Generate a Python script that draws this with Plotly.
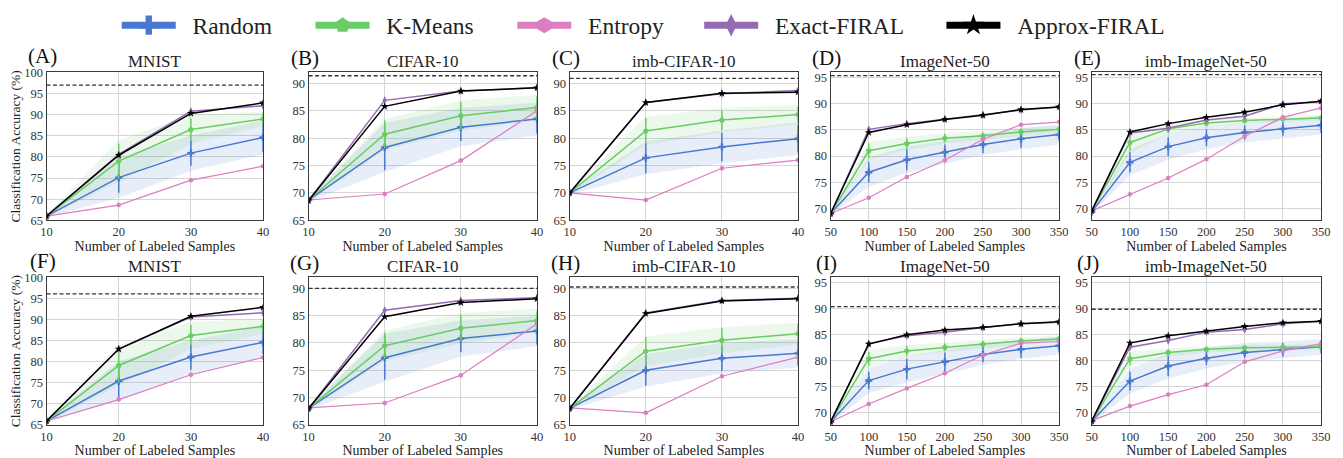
import plotly.graph_objects as go

W, H = 1343, 458
FONT = "Liberation Serif, Times New Roman, Times, serif"

X_SMALL = [10, 20, 30, 40]
X_LARGE = [50, 100, 150, 200, 250, 300, 350]

PANEL_LETTERS = ["(A)", "(B)", "(C)", "(D)", "(E)", "(F)", "(G)", "(H)", "(I)", "(J)"]
PANEL_NAMES = ["MNIST", "CIFAR-10", "imb-CIFAR-10", "ImageNet-50", "imb-ImageNet-50",
               "MNIST", "CIFAR-10", "imb-CIFAR-10", "ImageNet-50", "imb-ImageNet-50"]
X_LABEL = "Number of Labeled Samples"
Y_LABEL = "Classification Accuracy (%)"
METHODS = ["Random", "K-Means", "Entropy", "Exact-FIRAL", "Approx-FIRAL"]

RANDOM_MEAN = [
    [66.0, 75.1, 80.9, 84.6],
    [68.7, 78.3, 82.0, 83.5],
    [70.0, 76.4, 78.4, 79.9],
    [69.0, 76.9, 79.3, 80.7, 82.2, 83.3, 84.1],
    [69.3, 78.8, 81.8, 83.5, 84.5, 85.2, 85.9],
    [65.9, 75.4, 81.1, 84.6],
    [68.0, 77.3, 80.8, 82.2],
    [68.0, 75.0, 77.2, 78.1],
    [68.3, 76.2, 78.4, 79.8, 81.2, 82.2, 82.9],
    [68.4, 76.1, 79.0, 80.5, 81.6, 82.1, 82.7],
]
RANDOM_ERR = [
    [0, 3.6, 3.0, 3.4],
    [0, 4.1, 2.5, 2.6],
    [0, 2.8, 2.6, 2.5],
    [0, 1.9, 2.0, 1.5, 1.6, 1.7, 1.2],
    [0, 1.9, 1.8, 1.6, 1.4, 1.3, 1.5],
    [0, 4.2, 3.0, 2.8],
    [0, 4.0, 2.5, 2.5],
    [0, 2.8, 2.3, 2.2],
    [0, 1.7, 2.0, 1.8, 1.5, 1.6, 1.3],
    [0, 1.8, 1.9, 1.3, 1.0, 1.3, 1.3],
]
RANDOM_BAND = [
    [0.3, 4.8, 4.2, 4.0],
    [0.3, 4.5, 3.5, 3.0],
    [0.3, 3.0, 3.0, 3.0],
    [0.3, 2.8, 2.5, 2.2, 2.0, 2.0, 1.9],
    [0.3, 2.5, 2.5, 2.2, 1.9, 1.8, 1.8],
    [0.3, 4.7, 4.0, 3.8],
    [0.3, 4.4, 3.3, 2.8],
    [0.3, 3.0, 2.8, 2.6],
    [0.3, 2.4, 2.5, 2.2, 2.0, 1.8, 1.7],
    [0.3, 2.4, 2.4, 2.0, 1.8, 1.6, 1.5],
]
KMEANS_MEAN = [
    [66.0, 79.0, 86.5, 89.0],
    [68.7, 80.7, 84.1, 85.6],
    [70.0, 81.3, 83.3, 84.3],
    [69.0, 81.0, 82.4, 83.4, 83.9, 84.6, 85.1],
    [69.5, 82.6, 85.2, 86.3, 86.8, 87.1, 87.3],
    [65.9, 79.1, 86.2, 88.4],
    [68.0, 79.5, 82.7, 84.1],
    [68.0, 78.5, 80.5, 81.7],
    [68.3, 80.4, 81.9, 82.6, 83.2, 83.8, 84.2],
    [68.4, 80.4, 81.6, 82.2, 82.5, 82.6, 82.7],
]
KMEANS_ERR = [
    [0, 4.1, 2.6, 1.5],
    [0, 2.5, 2.5, 2.0],
    [0, 2.4, 1.8, 1.5],
    [0, 1.4, 1.0, 0.8, 0.6, 0.6, 0.6],
    [0, 1.6, 0.8, 0.6, 0.5, 0.4, 0.4],
    [0, 4.0, 2.5, 1.5],
    [0, 2.4, 2.5, 1.7],
    [0, 2.6, 2.2, 1.8],
    [0, 1.3, 0.9, 0.7, 0.6, 0.5, 0.5],
    [0, 1.2, 0.6, 0.5, 0.5, 0.5, 0.4],
]
KMEANS_BAND = [
    [0.3, 5.0, 3.4, 1.7],
    [0.3, 2.8, 2.8, 2.3],
    [0.3, 2.6, 2.2, 1.8],
    [0.3, 1.8, 1.3, 1.0, 0.9, 0.8, 0.7],
    [0.3, 2.0, 1.0, 0.7, 0.5, 0.5, 0.5],
    [0.3, 4.8, 3.2, 1.8],
    [0.3, 2.8, 2.8, 2.2],
    [0.3, 2.7, 2.4, 2.0],
    [0.3, 1.6, 1.1, 0.9, 0.8, 0.7, 0.6],
    [0.3, 1.4, 0.8, 0.6, 0.6, 0.5, 0.5],
]
ENTROPY_MEAN = [
    [66.0, 68.6, 74.5, 77.8],
    [68.7, 69.8, 75.9, 85.0],
    [70.0, 68.7, 74.5, 76.0],
    [69.0, 72.0, 76.0, 79.2, 83.2, 86.0, 86.5],
    [69.5, 72.7, 75.8, 79.4, 83.8, 87.4, 89.2],
    [65.9, 71.0, 76.9, 81.0],
    [68.1, 69.0, 74.1, 83.5],
    [68.1, 67.2, 73.9, 77.4],
    [68.3, 71.7, 74.7, 77.6, 81.1, 83.4, 83.7],
    [68.5, 71.3, 73.5, 75.4, 79.8, 81.9, 83.3],
]
EXACT_MEAN = [
    [66.0, 80.6, 90.8, 92.1],
    [68.6, 86.9, 88.6, 89.2],
    [70.0, 86.5, 88.1, 88.7],
    [69.0, 85.1, 86.2, 87.1, 87.9, 88.8, 89.4],
    [69.5, 84.4, 85.3, 86.9, 87.6, 90.0, 90.4],
    [65.9, 83.0, 90.6, 91.6],
    [68.0, 86.0, 87.8, 88.3],
    [68.0, 85.5, 87.8, 88.2],
    [68.3, 83.3, 84.8, 85.5, 86.4, 87.1, 87.4],
    [68.4, 82.6, 83.9, 85.5, 86.0, 87.1, 87.6],
]
APPROX_MEAN = [
    [66.0, 80.4, 90.3, 92.8],
    [68.6, 85.8, 88.6, 89.2],
    [70.0, 86.5, 88.2, 88.4],
    [69.0, 84.5, 86.0, 87.0, 87.8, 88.9, 89.4],
    [69.5, 84.6, 86.2, 87.4, 88.4, 89.8, 90.5],
    [65.9, 83.0, 90.8, 92.9],
    [68.0, 84.8, 87.4, 88.1],
    [68.0, 85.4, 87.7, 88.1],
    [68.3, 83.2, 85.0, 85.9, 86.4, 87.1, 87.5],
    [68.4, 83.4, 84.8, 85.7, 86.6, 87.3, 87.6],
]
UPPER_BOUND = [97.0, 91.4, 90.9, 95.4, 95.6, 96.1, 90.0, 90.25, 90.4, 89.9]

Y_RANGES = [[65, 100], [65, 92], [65, 92], [67.7, 96], [67.7, 96],
            [65, 100], [65, 92], [65, 92], [67.7, 96], [67.7, 96]]

COLORS = {"Random": "#4878d0", "K-Means": "#6acc64", "Entropy": "#dc7ec0",
          "Exact-FIRAL": "#956cb4", "Approx-FIRAL": "#000000"}
BAND_COLORS = {"Random": "rgba(72,120,208,0.13)", "K-Means": "rgba(106,204,100,0.13)"}
SYMBOLS = {"Random": "cross", "K-Means": "pentagon", "Entropy": "hexagon",
           "Exact-FIRAL": "diamond-tall", "Approx-FIRAL": "star"}

# layout geometry (pixels)
COL_PX = [(41, 260), (306, 537), (570, 801), (834, 1065), (1098, 1330)]
ROW_PX = [(67.5, 220), (279, 431)]
LEGEND_X_PX = [112, 308, 512, 701, 946]

fig = go.Figure()
annotations = []
shapes = []

for i in range(10):
    r, c = divmod(i, 5)
    s = "" if i == 0 else str(i + 1)
    xs = X_SMALL if c < 3 else X_LARGE
    xa, ya = "x" + s, "y" + s

    for name, mean, band in (("Random", RANDOM_MEAN[i], RANDOM_BAND[i]),
                             ("K-Means", KMEANS_MEAN[i], KMEANS_BAND[i])):
        hi = [m + b for m, b in zip(mean, band)]
        lo = [m - b for m, b in zip(mean, band)]
        fig.add_trace(go.Scatter(x=xs + xs[::-1], y=hi + lo[::-1], fill="toself",
                                 fillcolor=BAND_COLORS[name], line=dict(width=0),
                                 mode="lines", hoverinfo="skip", showlegend=False,
                                 xaxis=xa, yaxis=ya))
    series = [("Random", RANDOM_MEAN[i], RANDOM_ERR[i]),
              ("K-Means", KMEANS_MEAN[i], KMEANS_ERR[i]),
              ("Entropy", ENTROPY_MEAN[i], None),
              ("Exact-FIRAL", EXACT_MEAN[i], None),
              ("Approx-FIRAL", APPROX_MEAN[i], None)]
    for name, mean, err in series:
        kw = {}
        if err is not None:
            kw["error_y"] = dict(type="data", array=err, visible=True, color=COLORS[name],
                                 thickness=1.5, width=0)
        fig.add_trace(go.Scatter(
            x=xs, y=mean, mode="lines+markers", name=name, showlegend=False,
            line=dict(color=COLORS[name], width=1.2 if name == "Entropy" else 1.5),
            marker=dict(symbol=SYMBOLS[name], size=6 if name != "Entropy" else 5,
                        color=COLORS[name], line=dict(width=0)),
            xaxis=xa, yaxis=ya, **kw))

    shapes.append(dict(type="line", xref=xa + " domain", yref=ya, x0=0, x1=1,
                       y0=UPPER_BOUND[i], y1=UPPER_BOUND[i],
                       line=dict(color="#333", width=1.3, dash="4px,2.5px")))

    l, rr = COL_PX[c]
    t, b = ROW_PX[r]
    ax_common = dict(showline=True, mirror=True, linecolor="#3a3a3a", linewidth=1.3,
                     showgrid=True, gridcolor="#d6d6d6", gridwidth=1.2, zeroline=False,
                     ticks="", tickfont=dict(family=FONT, size=12.5, color="#333"))
    fig.layout["xaxis" + s] = dict(
        domain=[l / W, rr / W], anchor=ya, range=[xs[0], xs[-1]], tickvals=xs,
        title=dict(text=X_LABEL, font=dict(family=FONT, size=14, color="#222"), standoff=2),
        **ax_common)
    ydict = dict(domain=[1 - b / H, 1 - t / H], anchor=xa, range=Y_RANGES[i],
                 tick0=65, dtick=5, **ax_common)
    if c == 0:
        ydict["title"] = dict(text=Y_LABEL, font=dict(family=FONT, size=13.5, color="#222"),
                              standoff=0)
    fig.layout["yaxis" + s] = ydict

    letter_up = 17 if c == 0 else 15
    annotations.append(dict(text=PANEL_LETTERS[i], xref="paper", yref="paper",
                            x=(l - 4) / W, y=1 - (t - letter_up) / H, xanchor="center",
                            yanchor="middle", showarrow=False,
                            font=dict(family=FONT, size=21, color="#111")))
    annotations.append(dict(text=PANEL_NAMES[i], xref="paper", yref="paper",
                            x=(l + rr) / 2 / W, y=1 - (t - 11) / H, xanchor="center",
                            yanchor="middle", showarrow=False,
                            font=dict(family=FONT, size=17, color="#222")))

# legend entries, one legend box per method
legend_layout = {}
for k, name in enumerate(METHODS):
    key = "legend" if k == 0 else "legend%d" % (k + 1)
    fig.add_trace(go.Scatter(x=[None], y=[None], mode="lines+markers",
                             name="\u00a0\u00a0" + name,
                             line=dict(color=COLORS[name], width=7),
                             marker=dict(symbol=SYMBOLS[name], size=16, color=COLORS[name]),
                             showlegend=True, legend=key))
    legend_layout[key] = dict(orientation="h", x=LEGEND_X_PX[k] / W, xanchor="left",
                              y=1 - 19 / H, yanchor="middle", itemwidth=54,
                              font=dict(family=FONT, size=23.5, color="#222"),
                              bgcolor="rgba(0,0,0,0)")

fig.update_layout(
    width=W, height=H, margin=dict(l=0, r=0, t=0, b=0),
    paper_bgcolor="white", plot_bgcolor="white",
    annotations=annotations, shapes=shapes,
    **legend_layout,
)

fig.write_html("out.html")
